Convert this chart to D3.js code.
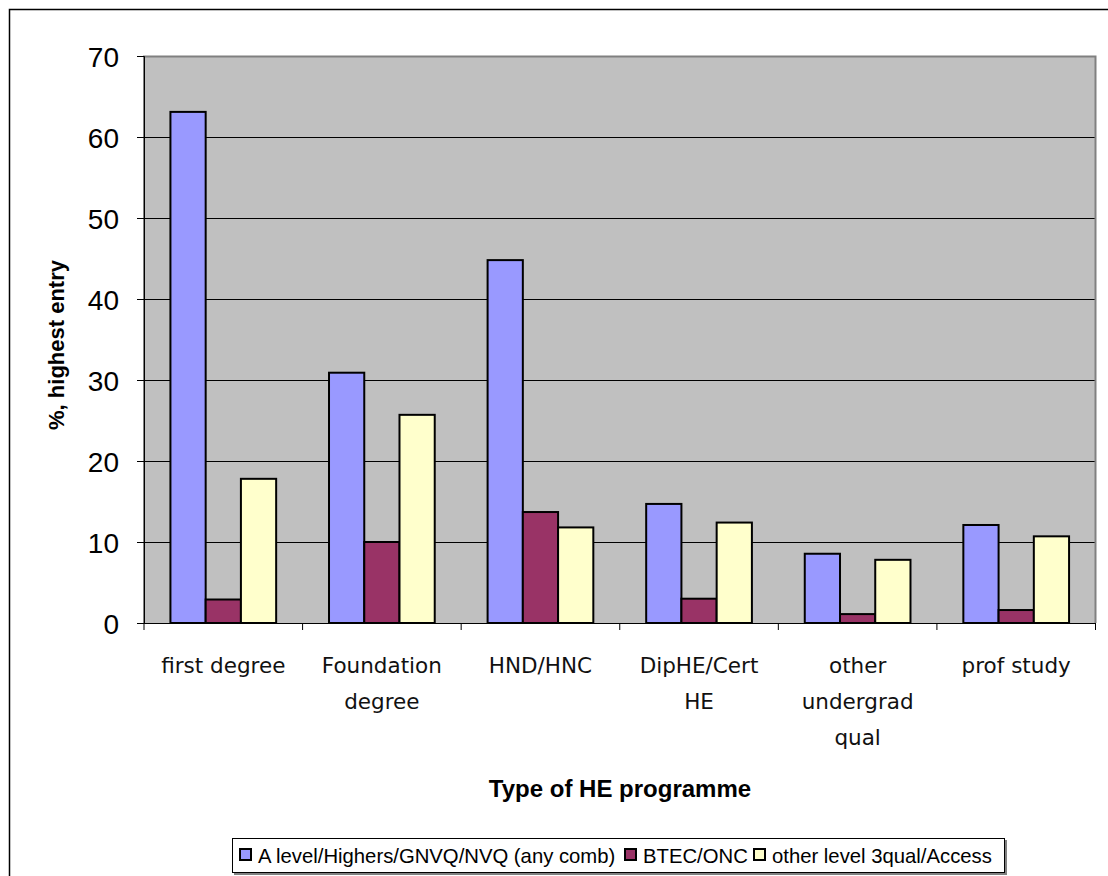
<!DOCTYPE html>
<html><head><meta charset="utf-8">
<script src="https://cdn.jsdelivr.net/npm/d3@7"></script>
<style>body{margin:0;background:#fff}svg{display:block}</style>
</head><body>
<svg id="chart" width="1108" height="876"></svg>
<script>
const categories = [["first degree"],["Foundation","degree"],["HND/HNC"],["DipHE/Cert","HE"],["other","undergrad","qual"],["prof study"]];
const seriesNames = ["A level/Highers/GNVQ/NVQ (any comb)","BTEC/ONC","other level 3qual/Access"];
const aLevel = [63.1, 30.9, 44.8, 14.7, 8.55, 12.1];
const btec = [2.9, 10.0, 13.7, 3.0, 1.1, 1.6];
const otherL3 = [17.8, 25.7, 11.8, 12.4, 7.8, 10.7];
const yTicks = [0,10,20,30,40,50,60,70];
const colors = ["#9999ff","#993366","#ffffcc"];

const series = [aLevel, btec, otherL3];
const svg = d3.select("#chart");
const L = 144, R = 1095.5, T = 56, B = 623;

// outer chart border
svg.append("rect").attr("x",9.5).attr("y",9.5).attr("width",1110).attr("height",880)
  .attr("fill","none").attr("stroke","#000").attr("stroke-width",1.5);

const x0 = d3.scaleBand().domain(d3.range(categories.length)).range([L,R]).padding(0);
const x1 = d3.scaleBand().domain(d3.range(series.length)).range([0,x0.bandwidth()]).paddingInner(0).paddingOuter(0.75);
const y = d3.scaleLinear().domain([0,70]).range([B,T]);

// plot area
svg.append("rect").attr("x",L).attr("y",T).attr("width",R-L).attr("height",B-T).attr("fill","#c0c0c0");
// gridlines
svg.append("g").selectAll("line").data(yTicks.filter(d=>d>0 && d<70)).join("line")
  .attr("x1",L).attr("x2",R).attr("y1",d=>y(d)+0.5).attr("y2",d=>y(d)+0.5)
  .attr("stroke","#000").attr("stroke-width",1);
// plot border (gray)
svg.append("path").attr("d",`M${L},${B} V${T+0.5} H${R} V${B}`).attr("fill","none")
  .attr("stroke","#808080").attr("stroke-width",2);

// bars
const g = svg.append("g");
series.forEach((vals,si)=>{
  g.append("g").selectAll("rect").data(vals).join("rect")
    .attr("x",(d,i)=>x0(i)+x1(si))
    .attr("y",d=>y(d))
    .attr("width",x1.bandwidth())
    .attr("height",d=>B-y(d))
    .attr("fill",colors[si]).attr("stroke","#000").attr("stroke-width",2);
});

// y axis
const yAxis = d3.axisLeft(y).tickValues(yTicks).tickSize(7).tickPadding(18);
const ya = svg.append("g").attr("transform",`translate(${L},0)`).call(yAxis);
ya.select(".domain").attr("stroke","#000").attr("stroke-width",1);
ya.selectAll(".tick line").attr("stroke","#000");
ya.selectAll(".tick text").attr("font-family","Liberation Sans, Arial, sans-serif").attr("font-size",28).attr("fill","#000").attr("dy","0.36em");

// x axis line and ticks at boundaries
const xa = svg.append("g");
xa.append("line").attr("x1",L).attr("x2",R).attr("y1",B+0.5).attr("y2",B+0.5).attr("stroke","#000");
xa.selectAll("line.t").data(d3.range(categories.length+1)).join("line").attr("class","t")
  .attr("x1",i=>i<categories.length?x0(i):R).attr("x2",i=>i<categories.length?x0(i):R)
  .attr("y1",B).attr("y2",B+7).attr("stroke","#000");
// category labels
const lab = svg.append("g").selectAll("text").data(categories).join("text")
  .attr("x",(d,i)=>x0(i)+x0.bandwidth()/2).attr("y",673)
  .attr("text-anchor","middle").attr("font-family","DejaVu Sans, Verdana, sans-serif")
  .attr("font-size",21.5).attr("fill","#111");
lab.each(function(d){
  d3.select(this).selectAll("tspan").data(d).join("tspan")
    .attr("x",d3.select(this).attr("x")).attr("dy",(t,j)=>j===0?0:36).text(t=>t);
});

// axis titles
svg.append("text").attr("x",620).attr("y",797).attr("text-anchor","middle")
  .attr("font-family","Liberation Sans, Arial, sans-serif").attr("font-weight","bold")
  .attr("font-size",24).attr("fill","#000").text("Type of HE programme");
svg.append("text").attr("transform","translate(64,345) rotate(-90)").attr("text-anchor","middle")
  .attr("font-family","Liberation Sans, Arial, sans-serif").attr("font-weight","bold")
  .attr("font-size",22).attr("fill","#000").text("%, highest entry");

// legend
const lg = svg.append("g");
lg.append("rect").attr("x",234).attr("y",840).attr("width",773).attr("height",35).attr("fill","#808080");
lg.append("rect").attr("x",232.5).attr("y",838.5).attr("width",772).attr("height",34).attr("fill","#fff").attr("stroke","#000").attr("stroke-width",1);
const legX = [240, 625, 754];
seriesNames.forEach((n,i)=>{
  lg.append("rect").attr("x",legX[i]).attr("y",849).attr("width",11).attr("height",11)
    .attr("fill",colors[i]).attr("stroke","#000").attr("stroke-width",2);
  lg.append("text").attr("x",legX[i]+18).attr("y",863)
    .attr("font-family","Liberation Sans, Arial, sans-serif")
    .attr("font-size",20.3).attr("fill","#000").text(n);
});
</script>
</body></html>
